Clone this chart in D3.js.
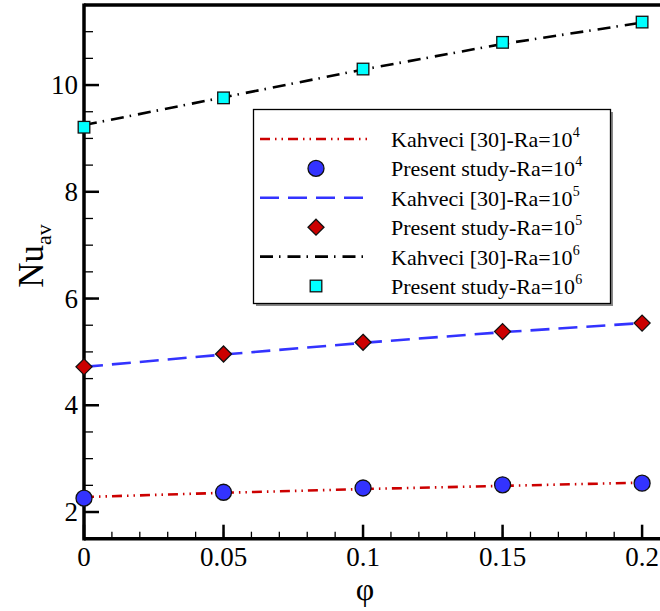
<!DOCTYPE html>
<html>
<head>
<meta charset="utf-8">
<script src="https://cdn.jsdelivr.net/npm/d3@7"></script>
<style>
  body { margin: 0; background: #fff; }
  svg { display: block; }
  text { font-family: "Liberation Serif", "Times New Roman", "DejaVu Serif", serif; }
</style>
</head>
<body>
<svg id="chart" width="660" height="611"></svg>
<script>
// values
var phi = [0, 0.05, 0.1, 0.15, 0.2];

var kahveci4 = [2.28, 2.36, 2.43, 2.49, 2.55];
var present4 = [2.26, 2.37, 2.45, 2.51, 2.54];
var kahveci5 = [4.72, 4.95, 5.17, 5.37, 5.54];
var present5 = [4.72, 4.96, 5.18, 5.38, 5.54];
var kahveci6 = [9.25, 9.77, 10.29, 10.77, 11.17];
var present6 = [9.21, 9.76, 10.30, 10.80, 11.18];

var xTicks = [0, 0.05, 0.1, 0.15, 0.2];
var yTicks = [2, 4, 6, 8, 10];

var serif = "'Liberation Serif', 'Times New Roman', 'DejaVu Serif', serif";

var svg = d3.select("#chart");

var x = d3.scaleLinear().domain([0, 0.21]).range([84, 670]);
var y = d3.scaleLinear().domain([1.5, 11.5]).range([538.7, 5]);

var frameB = y(1.5), frameT = y(11.5);

// minor ticks
var xMinor = d3.range(0, 0.2101, 0.01);
var yMinor = d3.range(1.5, 11.5001, 0.5);

var g = svg.append("g");

g.selectAll(".xminor").data(xMinor).enter().append("line")
  .attr("x1", function (d) { return x(d); }).attr("x2", function (d) { return x(d); })
  .attr("y1", frameB).attr("y2", frameB - 7)
  .attr("stroke", "#000").attr("stroke-width", 1.3);

g.selectAll(".xmajor").data(xTicks).enter().append("line")
  .attr("x1", function (d) { return x(d); }).attr("x2", function (d) { return x(d); })
  .attr("y1", frameB).attr("y2", frameB - 14)
  .attr("stroke", "#000").attr("stroke-width", 2.5);

g.selectAll(".yminor").data(yMinor).enter().append("line")
  .attr("x1", 84).attr("x2", 93)
  .attr("y1", function (d) { return y(d); }).attr("y2", function (d) { return y(d); })
  .attr("stroke", "#000").attr("stroke-width", 1.3);

g.selectAll(".ymajor").data(yTicks).enter().append("line")
  .attr("x1", 84).attr("x2", 99)
  .attr("y1", function (d) { return y(d); }).attr("y2", function (d) { return y(d); })
  .attr("stroke", "#000").attr("stroke-width", 2.5);

// frame
g.append("line").attr("x1", 84).attr("x2", 670).attr("y1", frameB).attr("y2", frameB)
  .attr("stroke", "#000").attr("stroke-width", 3.5);
g.append("line").attr("x1", 84).attr("x2", 670).attr("y1", frameT).attr("y2", frameT)
  .attr("stroke", "#000").attr("stroke-width", 3.5);
g.append("line").attr("x1", 84).attr("x2", 84).attr("y1", frameT - 1.5).attr("y2", frameB + 1.7)
  .attr("stroke", "#000").attr("stroke-width", 3.5);

// tick labels
g.selectAll(".xlab").data(xTicks).enter().append("text")
  .attr("x", function (d) { return x(d); }).attr("y", 566)
  .attr("text-anchor", "middle").attr("font-size", 27).attr("font-family", serif)
  .text(function (d) { return d; });

g.selectAll(".ylab").data(yTicks).enter().append("text")
  .attr("x", 78).attr("y", function (d) { return y(d) + 9; })
  .attr("text-anchor", "end").attr("font-size", 27).attr("font-family", serif)
  .text(function (d) { return d; });

// axis titles
svg.append("text").attr("x", 365).attr("y", 600).attr("font-family", serif)
  .attr("text-anchor", "middle").attr("font-size", 32).text("φ");

var yt = svg.append("text").attr("font-family", serif)
  .attr("transform", "translate(43,256) rotate(-90)")
  .attr("text-anchor", "middle").attr("font-size", 35);
yt.append("tspan").text("Nu");
yt.append("tspan").attr("font-size", 22).attr("dy", 8).text("av");

// series
var series = [
  {line: kahveci4, pts: present4, color: "#cc0000", dash: "10,5,1.5,5,1.5,5", marker: "circle", fill: "#3333ff", exp: "4"},
  {line: kahveci5, pts: present5, color: "#3333ff", dash: "19,9", marker: "diamond", fill: "#cc0000", exp: "5"},
  {line: kahveci6, pts: present6, color: "#000000", dash: "13,6,1.5,7", marker: "square", fill: "#00ffff", exp: "6"}
];

var line = d3.line()
  .x(function (d, i) { return x(phi[i]); })
  .y(function (d) { return y(d); });

function drawMarker(sel, type, fill) {
  if (type === "circle") {
    sel.append("circle").attr("r", 8);
  } else if (type === "diamond") {
    sel.append("path").attr("d", "M0,-8L8,0L0,8L-8,0Z");
  } else {
    sel.append("rect").attr("x", -5.8).attr("y", -5.8).attr("width", 11.6).attr("height", 11.6);
  }
  sel.selectAll("circle,path,rect")
    .attr("fill", fill).attr("stroke", "#111").attr("stroke-width", 1.3);
}

series.forEach(function (s) {
  svg.append("path").datum(s.line)
    .attr("d", line)
    .attr("fill", "none").attr("stroke", s.color)
    .attr("stroke-width", 2.6).attr("stroke-dasharray", s.dash);
});

series.forEach(function (s) {
  svg.selectAll(null).data(s.pts).enter().append("g")
    .attr("transform", function (d, i) { return "translate(" + x(phi[i]) + "," + y(d) + ")"; })
    .each(function () { drawMarker(d3.select(this), s.marker, s.fill); });
});

// legend
var lg = svg.append("g");
lg.append("rect").attr("x", 256).attr("y", 112).attr("width", 357).attr("height", 194).attr("fill", "#888");
lg.append("rect").attr("x", 253.5).attr("y", 109.5).attr("width", 357).attr("height", 194)
  .attr("fill", "#fff").attr("stroke", "#000").attr("stroke-width", 1.3);

var legendRows = [];
series.forEach(function (s) {
  legendRows.push({kind: "line", s: s, label: "Kahveci [30]-Ra=10"});
  legendRows.push({kind: "marker", s: s, label: "Present study-Ra=10"});
});

legendRows.forEach(function (r, i) {
  var cy = 139 + i * 29.4;
  if (r.kind === "line") {
    lg.append("line").attr("x1", 260).attr("x2", 369).attr("y1", cy).attr("y2", cy)
      .attr("stroke", r.s.color).attr("stroke-width", 2.6).attr("stroke-dasharray", r.s.dash);
  } else {
    var mg = lg.append("g").attr("transform", "translate(316," + cy + ")");
    drawMarker(mg, r.s.marker, r.s.fill);
  }
  var t = lg.append("text").attr("x", 391).attr("y", cy + 8).attr("font-size", 22).attr("font-family", serif);
  t.append("tspan").text(r.label);
  t.append("tspan").attr("font-size", 14).attr("dy", -10).text(r.s.exp);
});
</script>
</body>
</html>
